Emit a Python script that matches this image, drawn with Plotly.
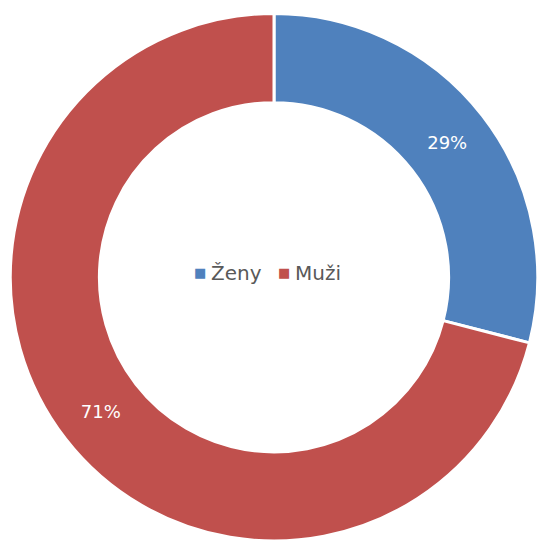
import plotly.graph_objects as go

labels = ["Ženy", "Muži"]
values = [29, 71]
colors = ["#4F81BD", "#C0504D"]

W, H = 540, 541
cx, cy, r = 274, 278, 264.5

fig = go.Figure(go.Pie(
    labels=labels,
    values=values,
    hole=0.662,
    sort=False,
    direction="clockwise",
    rotation=0,
    marker=dict(colors=colors, line=dict(color="white", width=3)),
    texttemplate="%{percent:.0%}",
    textposition="inside",
    insidetextorientation="horizontal",
    textfont=dict(color="white", size=18, family="DejaVu Sans, sans-serif"),
    domain=dict(x=[max(0, (cx - r) / W), min(1, (cx + r) / W)],
                y=[max(0, (H - cy - r) / H), min(1, (H - cy + r) / H)]),
    hoverinfo="label+percent",
    showlegend=False,
))

# legend drawn in the hole: small square marker + label for each item
item_x = [196, 280]   # x of each marker's left edge
for lab, c, x0 in zip(labels, colors, item_x):
    fig.add_annotation(
        text="■", x=(x0 + 4) / W, y=1 - 272 / H,
        xref="paper", yref="paper", xanchor="center", yanchor="middle",
        showarrow=False, font=dict(size=13, color=c, family="DejaVu Sans, sans-serif"),
    )
    fig.add_annotation(
        text=lab, x=(x0 + 13) / W, y=1 - 273 / H,
        xref="paper", yref="paper", xanchor="left", yanchor="middle",
        showarrow=False, font=dict(size=20, color="#595959", family="DejaVu Sans, sans-serif"),
    )

fig.update_layout(
    width=W, height=H,
    margin=dict(l=0, r=0, t=0, b=0),
    paper_bgcolor="white",
    plot_bgcolor="white",
)

fig.write_html(
    "out.html",
    config={"displayModeBar": False},
    post_script="document.body.style.margin='0';document.body.style.overflow='hidden';",
)
